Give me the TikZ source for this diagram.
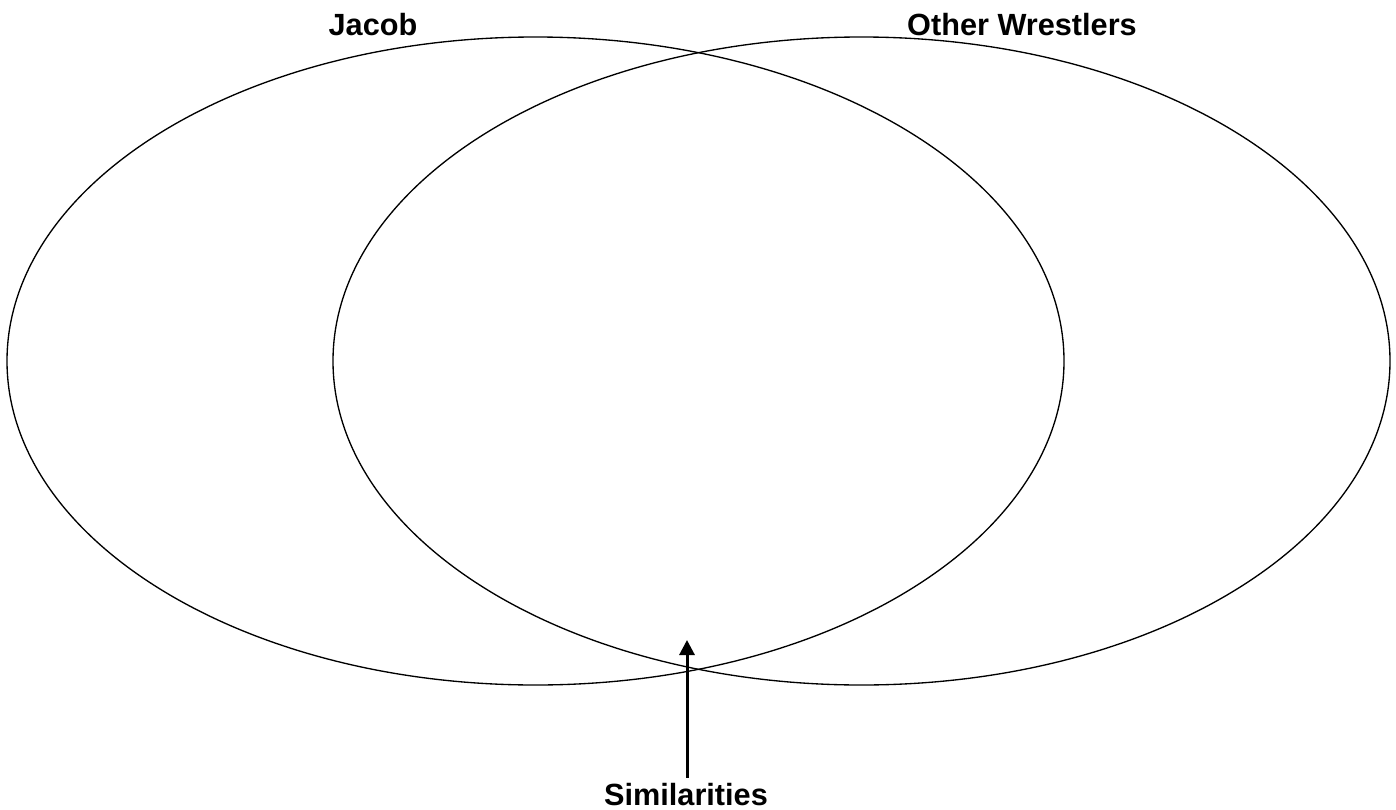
\documentclass[tikz,border=0pt]{standalone}
\usepackage{fontspec}
\setmainfont{Liberation Sans}
\usetikzlibrary{shapes.geometric,arrows.meta,positioning}

\begin{document}
\begin{tikzpicture}[x=0.75pt, y=-0.75pt, every node/.style={font=\fontsize{23}{27}\selectfont\bfseries}]
    \useasboundingbox (0,0) rectangle (1396,810);

    % Circles
    \node[draw, ellipse, line width=1pt, minimum width=792.75pt, minimum height=486pt, inner sep=0pt] (jacob) at (535.5,361) {};
    \node[draw, ellipse, line width=1pt, minimum width=792.75pt, minimum height=486pt, inner sep=0pt] (others) at (861.5,361) {};

    % Titles
    \node[anchor=base, inner sep=0pt] (jacoblbl) at (373,35) {Jacob};
    \node[anchor=base, inner sep=0pt] (otherlbl) at (1022,35) {Other Wrestlers};

    % Overlap
    \node[anchor=base, inner sep=0pt] (sim) at (686,805) {Similarities};
    \coordinate (overlap) at (687,640);
    \draw[-{Triangle[length=11.25pt, width=11.25pt]}, line width=2.25pt] (sim.north -| overlap) ++(0,-5) -- (overlap);
\end{tikzpicture}
\end{document}
